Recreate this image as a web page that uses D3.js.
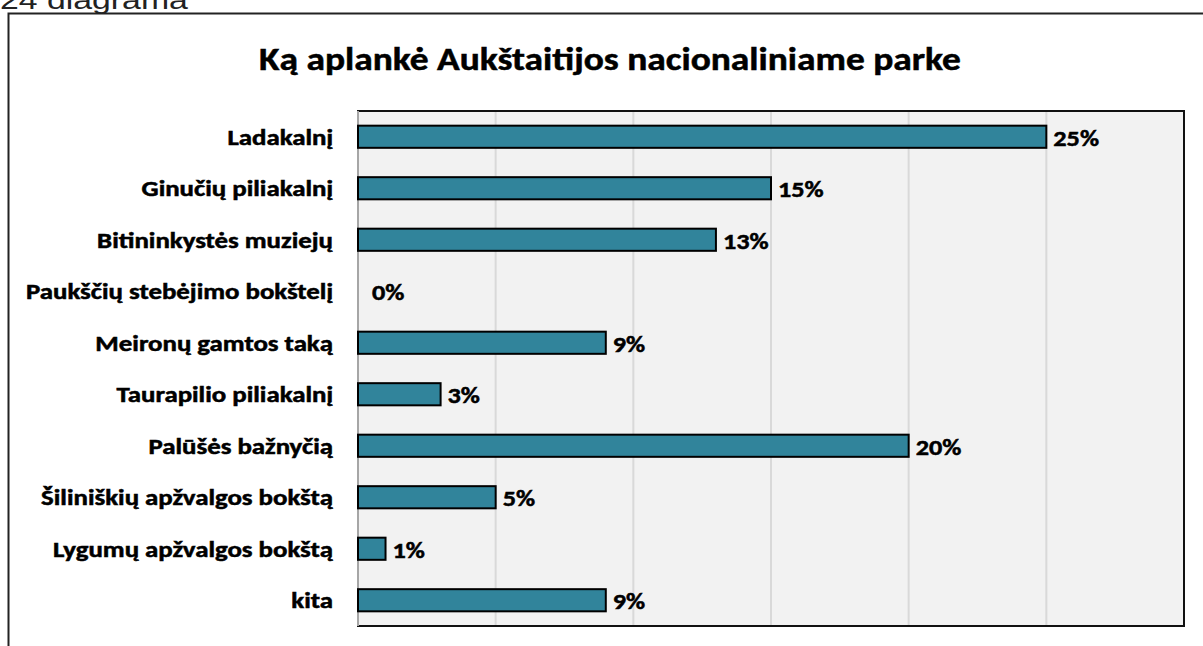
<!DOCTYPE html>
<meta charset="utf-8">
<head>
  <title>Ką aplankė Aukštaitijos nacionaliniame parke</title>
</head>
<style>
body { margin: 0; background: white; }
text { font-family: Carlito, Lato, "Open Sans", sans-serif; font-weight: bold; fill: black; stroke: black; stroke-width: 0.5px; }
.caption { font-family: "Liberation Sans", Arial, sans-serif; font-weight: normal; fill: #222; stroke: none; }
.grid line { stroke: #d9d9d9; stroke-width: 2; }
.bar { fill: #31849b; stroke: black; stroke-width: 2; }
</style>
<body>
<svg width="1203" height="646"></svg>
<script src="https://cdnjs.cloudflare.com/ajax/libs/d3/7.8.5/d3.min.js"></script>
<script>
var categories = [
  "Ladakalnį",
  "Ginučių piliakalnį",
  "Bitininkystės muziejų",
  "Paukščių stebėjimo bokštelį",
  "Meironų gamtos taką",
  "Taurapilio piliakalnį",
  "Palūšės bažnyčią",
  "Šiliniškių apžvalgos bokštą",
  "Lygumų apžvalgos bokštą",
  "kita"
];
var values = [0.25, 0.15, 0.13, 0, 0.09, 0.03, 0.20, 0.05, 0.01, 0.09];
var gridTicks = [0, 0.05, 0.10, 0.15, 0.20, 0.25, 0.30];

var svg = d3.select('svg');
var plot = { left: 358, top: 111, right: 1184, bottom: 626 };

// the original text looks wider than Lato, so stretch it a bit horizontally
function stretched(sel, sx, xPos) {
  sel.attr('transform', 'scale(' + sx + ',1)')
    .attr('x', function(d, i) { return (typeof xPos === 'function' ? xPos(d, i) : xPos) / sx; });
}

// outer chart frame (runs off the picture on the right and bottom)
svg.append('path')
  .attr('d', 'M8.5,660 V13.5 H1220')
  .attr('fill', 'none')
  .attr('stroke', '#222')
  .attr('stroke-width', 2);

svg.append('text')
  .attr('class', 'caption')
  .attr('y', 9)
  .attr('font-size', '26px')
  .text('24 diagrama')
  .call(stretched, 1.3, 0);

svg.append('text')
  .attr('y', 70)
  .attr('text-anchor', 'middle')
  .attr('font-size', '32px')
  .text('Ką aplankė Aukštaitijos nacionaliniame parke')
  .call(stretched, 1.17, 610);

var x = d3.scaleLinear().domain([0, 0.30]).range([plot.left, plot.right]);
var y = d3.scaleBand().domain(categories).range([plot.top, plot.bottom]).paddingInner(0.57).paddingOuter(0.285);

svg.append('rect')
  .attr('x', plot.left)
  .attr('y', plot.top)
  .attr('width', plot.right - plot.left)
  .attr('height', plot.bottom - plot.top)
  .attr('fill', '#f2f2f2');

svg.append('g')
  .attr('class', 'grid')
  .selectAll('line')
  .data(gridTicks.slice(1, -1))
  .enter()
  .append('line')
  .attr('x1', function(d) { return x(d); })
  .attr('x2', function(d) { return x(d); })
  .attr('y1', plot.top)
  .attr('y2', plot.bottom);

svg.append('rect')
  .attr('x', plot.left)
  .attr('y', plot.top)
  .attr('width', plot.right - plot.left)
  .attr('height', plot.bottom - plot.top)
  .attr('fill', 'none')
  .attr('stroke', '#111')
  .attr('stroke-width', 2);

// category axis line in grey
svg.append('line')
  .attr('x1', plot.left).attr('x2', plot.left)
  .attr('y1', plot.top).attr('y2', plot.bottom)
  .attr('stroke', '#a6a6a6')
  .attr('stroke-width', 2);

var rows = svg.selectAll('g.row')
  .data(categories)
  .enter()
  .append('g')
  .attr('class', 'row');

rows.filter(function(d, i) { return values[i] > 0; })
  .append('rect')
  .attr('class', 'bar')
  .attr('x', x(0))
  .attr('y', function(d) { return y(d); })
  .attr('width', function(d) { return x(values[categories.indexOf(d)]) - x(0); })
  .attr('height', y.bandwidth());

rows.append('text')
  .attr('y', function(d) { return y(d) + y.bandwidth() / 2; })
  .attr('dy', '0.36em')
  .attr('text-anchor', 'end')
  .attr('font-size', '22px')
  .text(function(d) { return d; })
  .call(stretched, 1.22, plot.left - 25);

rows.append('text')
  .attr('y', function(d) { return y(d) + y.bandwidth() / 2; })
  .attr('dy', '0.4em')
  .attr('font-size', '23px')
  .text(function(d) { return Math.round(values[categories.indexOf(d)] * 100) + '%'; })
  .call(stretched, 1.14, function(d) {
    var v = values[categories.indexOf(d)];
    return x(v) + (v > 0 ? 7 : 14);
  });
</script>
</body>
